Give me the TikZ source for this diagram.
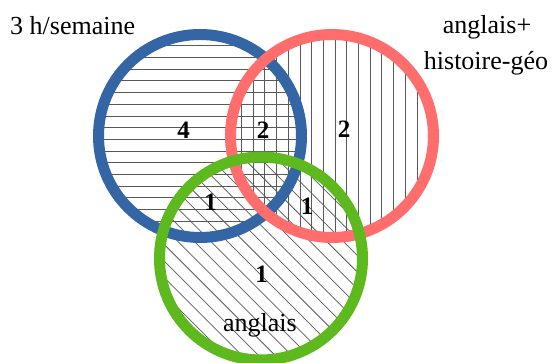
\documentclass[tikz,border=0pt]{standalone}
\usepackage{fontspec}
\setmainfont{Liberation Serif}
\definecolor{setblue}{RGB}{52,101,164}
\definecolor{setred}{RGB}{255,109,109}
\definecolor{setgreen}{RGB}{94,185,30}
\begin{document}
\begin{tikzpicture}[
    x=1pt, y=1pt,
    ring/.style={line width=11pt},
    hatch/.style={line width=0.75pt, black!65},
    settext/.style={font=\fontsize{26}{30}\selectfont, inner sep=0pt},
    countnum/.style={font=\fontsize{25}{30}\selectfont\bfseries, inner sep=0pt}
]
\useasboundingbox (0,0) rectangle (555,363);

\coordinate (cb) at (200,227);
\coordinate (cr) at (332,227);
\coordinate (cg) at (261,104.5);

\begin{scope}
  \clip (cb) circle (102);
  \foreach \k in {-9,...,9}
    \draw[hatch] (90,235.4+\k*11.7) -- (310,235.4+\k*11.7);
\end{scope}
\begin{scope}
  \clip (cr) circle (102);
  \foreach \k in {-9,...,9}
    \draw[hatch] (335+\k*11.7,110) -- (335+\k*11.7,340);
\end{scope}
\begin{scope}
  \clip (cg) circle (102);
  \foreach \k in {-9,...,9}
    \draw[hatch] (111+\k*16.55,254.5) -- ++(300,-300);
\end{scope}

\draw[ring, setblue] (cb) circle (101.5);
\draw[ring, setred] (cr) circle (101.5);
\draw[ring, setgreen] (cg) circle (101.5);

\node[settext, anchor=base west] (hours) at (10,328) {3 h/semaine};
\node[settext, anchor=base] (engtop) at (487,329) {anglais+};
\node[settext, anchor=base] (engbot) at (486,293) {histoire-géo};
\node[settext, anchor=base] (english) at (260,31) {anglais};

\node[countnum] (nfour) at (183.5,232.5) {4};
\node[countnum] (ntwoa) at (263,233) {2};
\node[countnum] (ntwob) at (344,233.5) {2};
\node[countnum] (nonea) at (210.5,161) {1};
\node[countnum] (noneb) at (307,156.5) {1};
\node[countnum] (nonec) at (261.5,88.5) {1};

\end{tikzpicture}
\end{document}
